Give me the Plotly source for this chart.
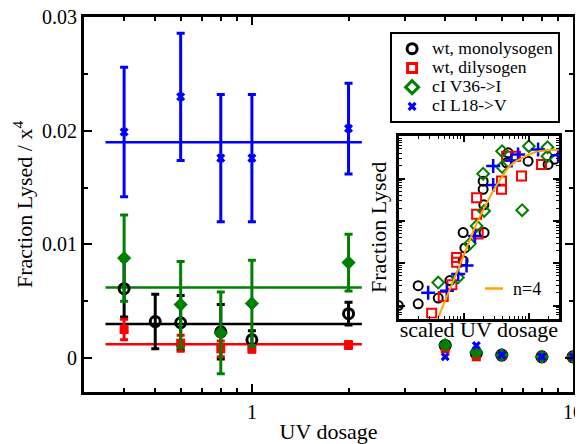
import plotly.graph_objects as go

# ---------------- main panel data ----------------
mono_dose = [0.4, 0.5, 0.6, 0.8, 1.0, 2.0]
mono_frac = [0.0061, 0.0032, 0.0031, 0.0023, 0.0016, 0.0039]
mono_err = [0.0025, 0.0024, 0.0024, 0.0024, 0.0008, 0.0010]

dil_dose = [0.4, 0.6, 0.8, 1.0, 2.0]
dil_frac = [0.0025, 0.0013, 0.0008, 0.0008, 0.00114]
dil_err = [0.0009, 0.0007, 0.0007, 0.0003, 0.0003]

v36_dose = [0.4, 0.6, 0.8, 1.0, 2.0]
v36_frac = [0.0088, 0.0047, 0.0022, 0.0048, 0.0084]
v36_err = [0.0038, 0.0038, 0.0036, 0.0038, 0.0025]

l18_dose = [0.4, 0.6, 0.8, 1.0, 2.0]
l18_frac = [0.0199, 0.0230, 0.0176, 0.0176, 0.0202]
l18_err = [0.0057, 0.0056, 0.0056, 0.0056, 0.0040]

high_dose = [4, 5, 6, 8, 10]
mono_high = [0.0011, 0.0004, 0.00025, 0.0001, 0.0001]
dil_high = [0.0008, 0.0001, 0.00025, 0.0001, 0.0001]
v36_high = [0.00114, 0.0005, 0.00025, 0.0001, 0.0001]
l18_high = [0.0001, 0.0011, 0.00025, 0.0001, 0.0001]

mean_range = [0.35, 2.2]
mono_mean = 0.0030
dil_mean = 0.0012
v36_mean = 0.0062
l18_mean = 0.0190

series_names = ["wt, monolysogen", "wt, dilysogen", "cI V36->I", "cI L18->V"]

x_tickvals = [1, 10]
x_ticktext = ["1", "10"]
x_minor = [0.4, 0.5, 0.6, 0.7, 0.8, 0.9, 2, 3, 4, 5, 6, 7, 8, 9]
y_tickvals = [0, 0.01, 0.02, 0.03]
y_ticktext = ["0", "0.01", "0.02", "0.03"]
y_minor = [0.005, 0.015, 0.025]

# ---------------- inset data ----------------
in_mono_x = [0.098, 0.198, 0.198, 0.403, 0.609, 0.975, 1.035, 0.975, 2.05, 1.98, 1.98, 2.03, 4.54, 4.81, 9.75, 19.8, 25]
in_mono_y = [1.0e-4, 2.95e-4, 1.1e-4, 1.5e-4, 3.9e-4, 1.15e-3, 2.3e-3, 5.3e-3, 5.3e-3, 0.0557, 0.087, 0.024, 0.235, 0.405, 0.258, 0.216, 0.288]

in_dil_x = [0.319, 0.481, 0.653, 0.773, 0.773, 1.66, 1.57, 1.57, 3.8, 3.8, 4.54, 6.24, 7.72, 15.7]
in_dil_y = [6.6e-5, 1.63e-4, 3.1e-4, 1.37e-3, 1.05e-3, 4.9e-3, 0.0144, 0.0353, 0.0873, 0.0557, 0.339, 0.339, 0.1145, 0.216]

in_v36_x = [0.403, 0.81, 1.24, 1.57, 2.05, 1.98, 3.88, 3.88, 7.89, 10.0, 19.4, 19.4]
in_v36_y = [3.5e-4, 4.6e-4, 2.9e-3, 7.6e-3, 0.0172, 0.13, 0.444, 0.187, 0.0179, 0.582, 0.551, 0.339]

in_l18_x = [0.282, 0.547, 0.817, 1.10, 1.48, 2.83, 2.83, 5.42, 6.84, 13.9, 28.2]
in_l18_y = [2.0e-4, 2.25e-4, 5.6e-4, 8.8e-4, 4.4e-3, 0.197, 0.0703, 0.268, 0.371, 0.486, 0.357]

fit_x = [0.385, 0.81, 1.64, 2.34, 3.0, 3.84, 4.75, 6.1, 7.8, 12.4, 19.6, 29]
fit_y = [4.4e-5, 7.0e-4, 0.0100, 0.0296, 0.0598, 0.108, 0.177, 0.245, 0.304, 0.42, 0.469, 0.481]
fit_label = "n=4"

in_x_tickvals = [0.1, 1, 10]
in_x_minor = [k * d for d in (0.1, 1, 10) for k in range(2, 10)]
in_y_tickvals = [1e-4, 1e-3, 1e-2, 1e-1, 1]
in_y_minor = [k * d for d in (1e-5, 1e-4, 1e-3, 1e-2, 1e-1) for k in range(2, 10)]

FONT = "Liberation Serif"
BLACK = "#000000"
RED = "#ff0000"
GREEN = "#008000"
BLUE = "#0000ff"
ORANGE = "#ffa500"

fig = go.Figure()

# mean lines
for mean, col in [(mono_mean, BLACK), (dil_mean, RED), (v36_mean, GREEN), (l18_mean, BLUE)]:
    fig.add_trace(go.Scatter(x=mean_range, y=[mean, mean], mode="lines",
                             line=dict(color=col, width=2.5), showlegend=False,
                             xaxis="x", yaxis="y"))

main_specs = [
    (mono_dose, mono_frac, mono_err, mono_high, BLACK, "circle-open", 10, 3),
    (dil_dose, dil_frac, dil_err, dil_high, RED, "square", 9, 0),
    (v36_dose, v36_frac, v36_err, v36_high, GREEN, "diamond", 11, 0),
    (l18_dose, l18_frac, l18_err, l18_high, BLUE, "x", 8, 0),
]
for dose, frac, err, high, col, sym, size, lw in main_specs:
    fig.add_trace(go.Scatter(
        x=dose, y=frac, mode="markers",
        marker=dict(symbol=sym, size=size, color=col, line=dict(color=col, width=lw)),
        error_y=dict(type="data", array=err, visible=True, color=col, thickness=3, width=4),
        showlegend=False, xaxis="x", yaxis="y"))
for dose, frac, err, high, col, sym, size, lw in main_specs:
    fig.add_trace(go.Scatter(
        x=high_dose, y=high, mode="markers",
        marker=dict(symbol=sym, size=size, color=col, line=dict(color=col, width=lw)),
        showlegend=False, xaxis="x", yaxis="y"))

# legend entries
legend_specs = [
    (series_names[0], BLACK, "circle-open", 10),
    (series_names[1], RED, "square-open", 9),
    (series_names[2], GREEN, "diamond-open", 10),
    (series_names[3], BLUE, "x", 8),
]
for name, col, sym, size in legend_specs:
    fig.add_trace(go.Scatter(
        x=[None], y=[None], mode="markers",
        name='<span style="font-size:17.5px">' + name + '</span>',
        marker=dict(symbol=sym, size=size, color=col, line=dict(color=col, width=3 if "open" in sym else 0)),
        xaxis="x", yaxis="y"))

# inset
inset_specs = [
    (in_mono_x, in_mono_y, BLACK, "circle-open", 9, 2),
    (in_dil_x, in_dil_y, RED, "square-open", 9, 2),
    (in_v36_x, in_v36_y, GREEN, "diamond-open", 9, 2),
    (in_l18_x, in_l18_y, BLUE, "cross-thin-open", 10, 2.5),
]
for xs, ys, col, sym, size, lw in inset_specs:
    fig.add_trace(go.Scatter(x=xs, y=ys, mode="markers",
                             marker=dict(symbol=sym, size=size, color=col, line=dict(color=col, width=lw)),
                             showlegend=False, xaxis="x2", yaxis="y2"))
fig.add_trace(go.Scatter(x=fit_x, y=fit_y, mode="lines", line=dict(color=ORANGE, width=2, shape="spline"),
                         showlegend=False, xaxis="x2", yaxis="y2"))

axis_common = dict(showgrid=False, zeroline=False, showline=True, linecolor="black",
                   mirror="ticks", ticks="inside", tickcolor="black")

fig.update_layout(
    width=583, height=444,
    margin=dict(l=76, r=18, t=9, b=60),
    paper_bgcolor="white", plot_bgcolor="white",
    font=dict(family=FONT, size=20, color="black"),
    xaxis=dict(type="log", range=[-0.5229, 1.0001], tickvals=x_tickvals, ticktext=x_ticktext,
               ticklen=8, tickwidth=2, linewidth=3, domain=[0, 1], anchor="y",
               minor=dict(tickvals=x_minor, ticks="inside", ticklen=4, tickwidth=2, tickcolor="black"),
               title=dict(text="UV dosage", font=dict(size=22), standoff=2),
               tickfont=dict(size=20), automargin=False, ticklabeloverflow="allow", **axis_common),
    yaxis=dict(range=[-0.003, 0.03003], tickvals=y_tickvals, ticktext=y_ticktext,
               ticklen=8, tickwidth=2, linewidth=3, domain=[0, 1], anchor="x",
               minor=dict(tickvals=y_minor, ticks="inside", ticklen=4, tickwidth=2, tickcolor="black"),
               title=dict(text="Fraction Lysed / x<sup>4</sup>", font=dict(size=22), standoff=4),
               tickfont=dict(size=20), automargin=False, ticklabeloverflow="allow", **axis_common),
    xaxis2=dict(type="log", range=[-1, 1.462], domain=[0.644, 0.971], anchor="y2",
                tickvals=in_x_tickvals, showticklabels=False, ticklen=6, tickwidth=1.5, linewidth=2.5,
                minor=dict(tickvals=in_x_minor, ticks="inside", ticklen=3, tickwidth=1, tickcolor="black"),
                title=dict(text="scaled UV dosage", font=dict(size=22), standoff=2),
                automargin=False, **axis_common),
    yaxis2=dict(type="log", range=[-4.306, 0], domain=[0.196, 0.682], anchor="x2",
                tickvals=in_y_tickvals, showticklabels=False, ticklen=6, tickwidth=1.5, linewidth=2.5,
                minor=dict(tickvals=in_y_minor, ticks="inside", ticklen=3, tickwidth=1, tickcolor="black"),
                title=dict(text="Fraction Lysed", font=dict(size=22), standoff=4),
                automargin=False, **axis_common),
    legend=dict(x=0.626, y=0.960, xanchor="left", yanchor="top", bordercolor="black", borderwidth=2,
                bgcolor="white", font=dict(family=FONT, size=12.5, color="black"),
                itemwidth=30, tracegroupgap=0),
)

# n=4 key inside inset
fig.add_shape(type="line", xref="paper", yref="paper", x0=0.820, x1=0.857, y0=0.276, y1=0.276,
              line=dict(color=ORANGE, width=2.5))
fig.add_annotation(text=fit_label, xref="paper", yref="paper", x=0.873, y=0.276, xanchor="left",
                   yanchor="middle", showarrow=False, font=dict(family=FONT, size=18, color="black"))

fig.write_html("out.html")
